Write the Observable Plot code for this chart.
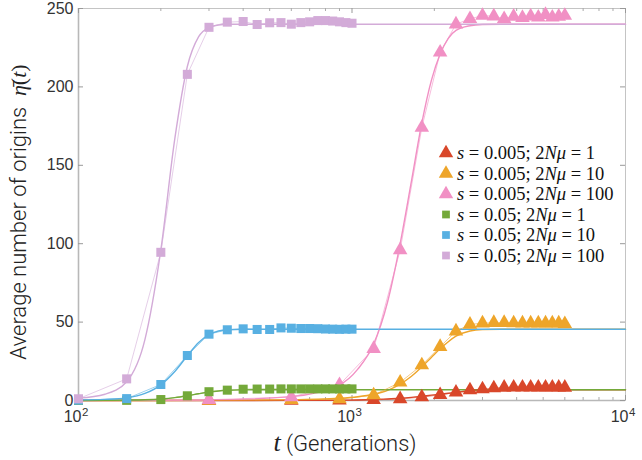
<!DOCTYPE html>
<html><head><meta charset="utf-8">
<script src="https://cdn.jsdelivr.net/npm/d3@7"></script>
<script src="https://cdn.jsdelivr.net/npm/@observablehq/plot@0.6"></script>
<style>body{margin:0;background:#fff}#chart{position:relative;width:642px;height:460px}</style>
</head><body><div id="chart"></div>
<script>
// ---- data: simulation points ----
const tSquares = [100,150,200,250,300,350,400,450,500,550,600,650,700,750,800,850,900,950,1000];
const purpleVals = [1.1,13.8,94.5,208,238,241.3,241.7,239.8,240.9,241,240,241,241.5,242.3,242.3,242,241.5,241,240.6];
const blueVals   = [0.2,1.2,10.2,28.7,42.3,45.1,45.7,45.3,45.3,46.3,46.1,45.9,45.9,45.8,45.6,45.5,45.4,45.5,45.5];
const greenVals  = [0,0.1,0.6,3,5.6,6.6,7.2,7.3,7.3,7.4,7.4,7.4,7.4,7.4,7.4,7.4,7.4,7.4,7.4];

const tTriangles = [300,600,900,1200,1500,1800,2100,2400,2700,3000,3300,3600,3900,4200,4500,4800,5100,5400,5700,6000];
const pinkVals   = [0.5,2.2,10,33,96,174,222,240,243.4,245.5,245.1,243.4,244.9,244.1,245.1,244.4,246,244.4,244.9,245.5];
const orangeVals = [0,0.5,0.9,3.4,11.6,22.6,34.3,44.2,48.5,49.3,49.6,49.6,49.4,49.3,49.3,49.3,49.3,49.3,49.3,48.9];
const redVals    = [0,0,0.1,0.4,1.0,2.2,3.6,5.2,6.6,7.3,7.9,8.3,8.4,8.4,8.4,8.4,8.4,8.4,8.4,8.3];

// ---- data: theory curves ----
const tTheoryS = [100,125,150,175,200,225,250,275,300,325,350,400,500,10000];
const purpleTh = [1.5,4,12,39,96,167,213,232,238,239.5,240,240,240,240];
const blueTh   = [0.3,0.7,1.7,4.5,10,18.5,28.5,37,42,44.3,45.1,45.4,45.4,45.4];
const greenTh  = [0,0.1,0.25,0.5,1,1.8,3,4.3,5.4,6.1,6.5,6.8,6.9,6.9];
const tTheoryT = [100,300,600,900,1050,1200,1350,1500,1650,1800,1950,2100,2250,2400,2700,3000,3500,4000,10000];
const pinkTh   = [0,0.3,2.5,10,20,36,63,100,140,177,204,221,231,236,239,239.8,240,240,240];
const orangeTh = [0,0.05,0.4,1.4,2.4,4,6.5,10.5,15.5,21.5,27.5,33,37.5,41,44.3,45.2,45.4,45.4,45.4];
const redTh    = [0,0,0.05,0.2,0.35,0.6,1,1.4,2,2.7,3.4,4,4.6,5.2,6.1,6.6,6.9,6.9,6.9];

// ---- series meta ----
const seriesNames = ["s = 0.005; 2Nμ = 1","s = 0.005; 2Nμ = 10","s = 0.005; 2Nμ = 100","s = 0.05; 2Nμ = 1","s = 0.05; 2Nμ = 10","s = 0.05; 2Nμ = 100"];
const legendS   = ["0.005","0.005","0.005","0.05","0.05","0.05"];
const legendMu  = ["1","10","100","1","10","100"];
const colors    = ["#D9472A","#EEA52A","#F190C4","#74A93A","#58B0E2","#D3ABD8"];
const symbols   = ["triangle","triangle","triangle","square","square","square"];

// ---- ticks ----
const yTicks = [0,50,100,150,200,250];
const xMajor = [100,1000,10000];
const xMinor = [200,300,400,500,600,700,800,900,2000,3000,4000,5000,6000,7000,8000,9000];
const xTickExp = {100:"2",1000:"3",10000:"4"};

const W = 642, H = 460, mL = 78, mR = 17, mT = 8, mB = 60;
const innerW = W - mL - mR, innerH = H - mT - mB;

const pts = (ts, vs) => ts.map((t,i)=>({t, v: vs[i]}));
const dataSets = [
  pts(tTriangles, redVals), pts(tTriangles, orangeVals), pts(tTriangles, pinkVals),
  pts(tSquares, greenVals), pts(tSquares, blueVals), pts(tSquares, purpleVals)
];
const theorySets = [
  pts(tTheoryT, redTh), pts(tTheoryT, orangeTh), pts(tTheoryT, pinkTh),
  pts(tTheoryS, greenTh), pts(tTheoryS, blueTh), pts(tTheoryS, purpleTh)
];

const tickFont = "Liberation Sans, Arial, sans-serif";
const marks = [];
marks.push(Plot.frame({stroke:"#c4c4c4", strokeWidth:1}));
marks.push(Plot.ruleX([100], {x:d=>d, stroke:"#b8b8b8", strokeWidth:1.6}));
marks.push(Plot.ruleY([0], {y:d=>d, stroke:"#b8b8b8", strokeWidth:1.6}));
marks.push(Plot.ruleX(xMajor, {x:d=>d, stroke:"#999", insetTop: innerH-5}));
marks.push(Plot.ruleX(xMajor, {x:d=>d, stroke:"#999", insetBottom: innerH-5}));
marks.push(Plot.ruleX(xMinor, {x:d=>d, stroke:"#aaa", insetTop: innerH-3}));
marks.push(Plot.ruleX(xMinor, {x:d=>d, stroke:"#aaa", insetBottom: innerH-3}));
marks.push(Plot.ruleY(yTicks, {y:d=>d, stroke:"#999", insetRight: innerW-5}));
marks.push(Plot.ruleY(yTicks, {y:d=>d, stroke:"#999", insetLeft: innerW-5}));
theorySets.forEach((d,i)=>{
  marks.push(Plot.line(d, {x:"t", y:"v", stroke: colors[i], strokeWidth:1.4, curve:"monotone-x"}));
});
dataSets.forEach((d,i)=>{
  marks.push(Plot.line(d, {x:"t", y:"v", stroke: colors[i], strokeWidth:0.9, strokeOpacity:0.65}));
});
dataSets.forEach((d,i)=>{
  marks.push(Plot.dot(d, {x:"t", y:"v", symbol: ()=>symbols[i], fill: colors[i], stroke:"none", r: symbols[i]==="triangle" ? 5.4 : 5.1}));
});
marks.push(Plot.axisY(yTicks, {tickSize:0, tickPadding:5, fontSize:16, fill:"#333", fontFamily: tickFont}));
// x tick labels: base "10" plus raised exponent
marks.push(Plot.text(xMajor, {x:d=>d, text:()=> "10", frameAnchor:"bottom", dy:21, dx:3, textAnchor:"end", fontSize:16, fill:"#333", fontFamily: tickFont}));
marks.push(Plot.text(xMajor, {x:d=>d, text:d=>xTickExp[d], frameAnchor:"bottom", dy:15, dx:3.5, textAnchor:"start", fontSize:11.5, fill:"#333", fontFamily: tickFont}));

const svgNode = Plot.plot({
  width: W, height: H,
  marginLeft: mL, marginRight: mR, marginTop: mT, marginBottom: mB,
  x: {type:"log", domain:[100,10000], label:null, axis:null},
  y: {domain:[0,250], label:null},
  symbol: {type:"identity"},
  style: {background:"#fff", overflow:"visible"},
  marks
});
document.getElementById("chart").appendChild(svgNode);

const svg = d3.select(svgNode);
const math = "Liberation Serif, Times New Roman, serif";
const sans = "Roboto, Liberation Sans, sans-serif";

const yl = svg.append("text")
  .attr("transform", `translate(26,${mT+innerH/2+8}) rotate(-90)`)
  .attr("text-anchor","middle").attr("font-size",22).attr("fill","#222")
  .attr("font-family", sans).attr("font-weight",300);
yl.append("tspan").text("Average number of origins  ");
yl.append("tspan").attr("font-family", math).attr("font-style","italic").text("η\u0304");
yl.append("tspan").attr("font-family", math).text("(");
yl.append("tspan").attr("font-family", math).attr("font-style","italic").text("t");
yl.append("tspan").attr("font-family", math).text(")");

const xl = svg.append("text")
  .attr("x", 345).attr("y", 451)
  .attr("text-anchor","middle").attr("font-size",22).attr("fill","#222")
  .attr("font-family", sans).attr("font-weight",300);
xl.append("tspan").attr("font-family", math).attr("font-style","italic").attr("font-size",26).text("t");
xl.append("tspan").text(" (Generations)");

const lg = svg.append("g").attr("text-anchor","start");
seriesNames.forEach((name,i)=>{
  const cy = 153 + i*20.5;
  const sym = symbols[i]==="triangle" ? d3.symbolTriangle : d3.symbolSquare;
  const size = symbols[i]==="triangle" ? 90 : 60;
  lg.append("path").attr("d", d3.symbol(sym, size)()).attr("transform",`translate(446,${cy})`).attr("fill", colors[i]);
  const tx = lg.append("text").attr("x",457).attr("y",cy).attr("dy","0.35em")
    .attr("text-anchor","start")
    .attr("font-family", math).attr("font-size",18.5).attr("fill","#111");
  tx.append("tspan").attr("font-style","italic").text("s");
  tx.append("tspan").text(` = ${legendS[i]}; 2`);
  tx.append("tspan").attr("font-style","italic").text("Nμ");
  tx.append("tspan").text(` = ${legendMu[i]}`);
});
</script></body></html>
